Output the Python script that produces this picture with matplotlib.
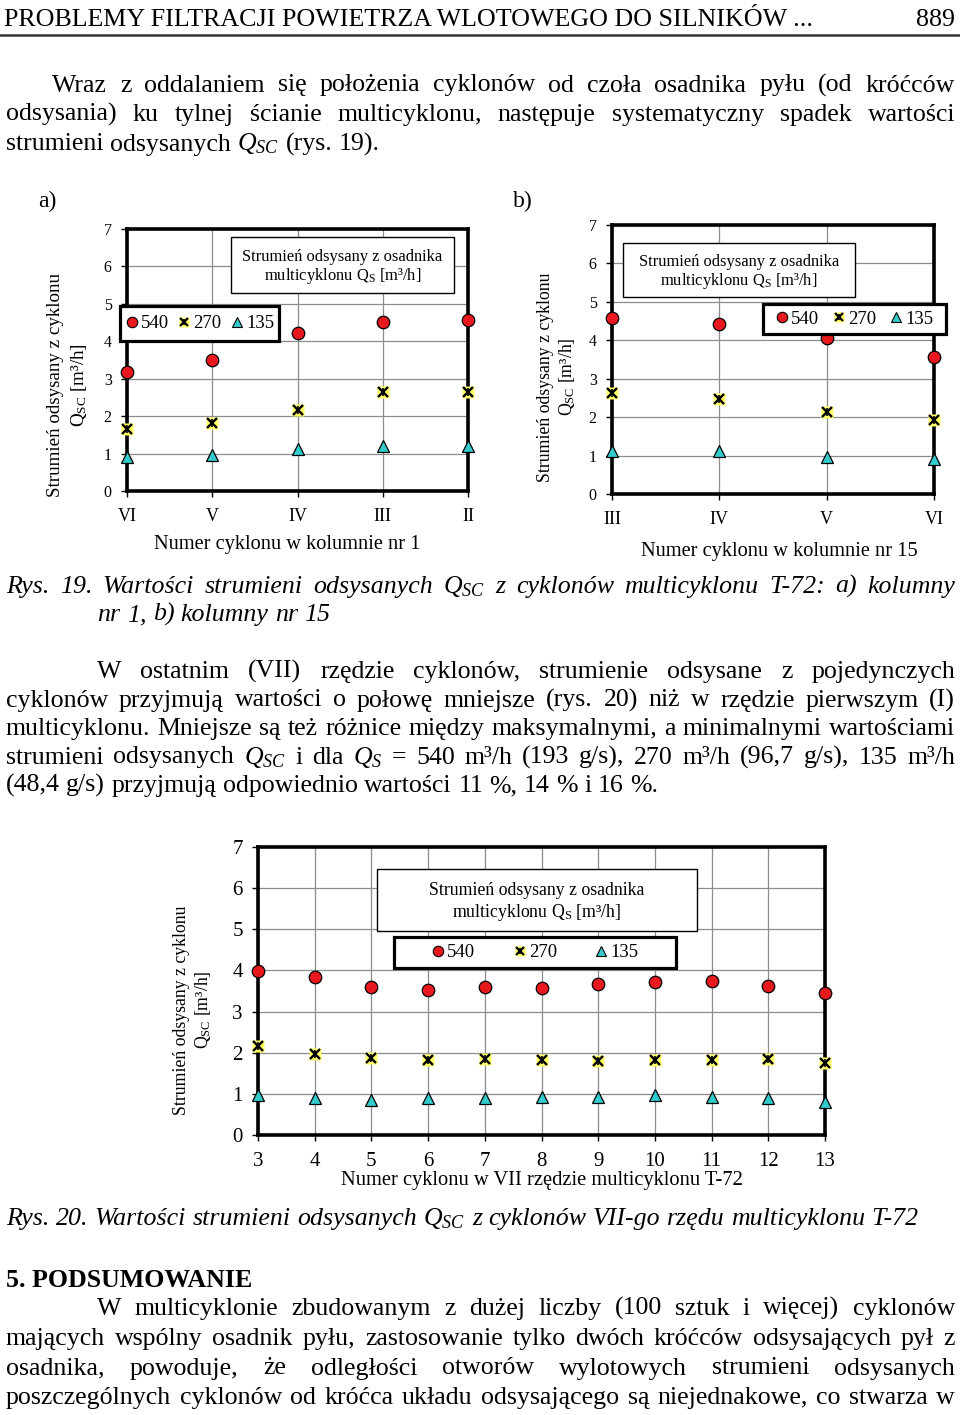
import matplotlib.pyplot as plt
from matplotlib.patches import Rectangle
from matplotlib.lines import Line2D

plt.rcParams['font.family'] = ['Liberation Serif', 'DejaVu Serif']
plt.rcParams['mathtext.fontset'] = 'custom'
plt.rcParams['mathtext.rm'] = 'Liberation Serif'
plt.rcParams['mathtext.it'] = 'Liberation Serif:italic'
plt.rcParams['mathtext.bf'] = 'Liberation Serif:bold'

# --- dane ---
series = ['540', '270', '135']

cols_a = ['VI', 'V', 'IV', 'III', 'II']
a_540 = [3.17, 3.50, 4.21, 4.52, 4.57]
a_270 = [1.65, 1.83, 2.16, 2.64, 2.64]
a_135 = [0.92, 0.96, 1.11, 1.20, 1.20]

cols_b = ['III', 'IV', 'V', 'VI']
b_540 = [4.59, 4.42, 4.05, 3.57]
b_270 = [2.62, 2.47, 2.13, 1.93]
b_135 = [1.13, 1.11, 0.96, 0.92]

row7 = [3, 4, 5, 6, 7, 8, 9, 10, 11, 12, 13]
r_540 = [3.99, 3.84, 3.59, 3.52, 3.59, 3.58, 3.68, 3.71, 3.75, 3.62, 3.46]
r_270 = [2.16, 1.97, 1.86, 1.82, 1.85, 1.82, 1.80, 1.82, 1.82, 1.84, 1.74]
r_135 = [0.97, 0.89, 0.85, 0.89, 0.89, 0.93, 0.93, 0.97, 0.93, 0.89, 0.81]

RED = '#e8191e'
YEL = '#ffff66'
CYAN = '#33cccc'
BODY = 18.6

W, H = 960, 1415
fig = plt.figure(figsize=(W / 100, H / 100), dpi=100)
renderer = fig.canvas.get_renderer()


def fy(y):
    return 1 - y / H


def put_line(y, text, x0=6, x1=955, size=BODY, justify=True, **kw):
    # kazde slowo osobno, zeby wyrownac do obu marginesow
    words = text.split(' ')
    objs = [fig.text(0, fy(y), w, fontsize=size, va='baseline', **kw) for w in words]
    widths = [o.get_window_extent(renderer).width for o in objs]
    if justify and len(objs) > 1:
        gap = (x1 - x0 - sum(widths)) / (len(objs) - 1)
    else:
        gap = 0.25 * size * 100 / 72
    x = x0
    for o, w in zip(objs, widths):
        o.set_x(x / W)
        x += w + gap


def text_box(x0, y0, x1, y1, size):
    fig.add_artist(Rectangle((x0 / W, fy(y1)), (x1 - x0) / W, (y1 - y0) / H,
                             transform=fig.transFigure, fc='white', ec='black', lw=1.0, zorder=1))
    cx = (x0 + x1) / 2 / W
    h = y1 - y0
    fig.text(cx, fy(y0 + h * 0.35), 'Strumień odsysany z osadnika', ha='center', va='center', fontsize=size, zorder=3)
    fig.text(cx, fy(y0 + h * 0.70), r'multicyklonu $\mathrm{Q_S}$ [m³/h]', ha='center', va='center', fontsize=size, zorder=3)


def legend_box(x0, y0, x1, y1, size, colsp, ms=7.5):
    fig.add_artist(Rectangle((x0 / W, fy(y1)), (x1 - x0) / W, (y1 - y0) / H,
                             transform=fig.transFigure, fc='white', ec='black', lw=2.3, zorder=1))
    h1 = Line2D([], [], ls='none', marker='o', ms=ms, mfc=RED, mec='black', mew=0.8)
    h2 = (Line2D([], [], ls='none', marker='s', ms=ms, mfc=YEL, mec='none'),
          Line2D([], [], ls='none', marker='x', ms=ms - 1.5, mec='black', mew=1.6),
          Line2D([], [], ls='none', marker='|', ms=ms - 2.5, mec='black', mew=1.2))
    h3 = Line2D([], [], ls='none', marker='^', ms=ms, mfc=CYAN, mec='black', mew=0.8)
    fig.legend([h1, h2, h3], series, loc='center',
               bbox_to_anchor=((x0 + x1) / 2 / W, fy((y0 + y1) / 2)),
               ncol=3, frameon=False, fontsize=size, handlelength=0.7, handletextpad=0.15,
               columnspacing=colsp, borderpad=0)


def style_axes(ax, xpos, xlabels, ysize, xsize):
    ax.set_ylim(0, 7)
    ax.set_yticks(range(8))
    ax.set_xlim(xpos[0], xpos[-1])
    ax.set_xticks(xpos)
    ax.set_xticklabels(xlabels)
    ax.grid(True, color='#8c8c8c', lw=0.9)
    ax.set_axisbelow(True)
    for s in ax.spines.values():
        s.set_linewidth(2.6)
    ax.tick_params(axis='y', labelsize=ysize, length=4, width=1, pad=7)
    ax.tick_params(axis='x', labelsize=xsize, length=4, width=1, pad=8)


def plot_series(ax, x, y540, y270, y135, ms=9):
    ax.plot(x, y540, ls='none', marker='o', ms=ms, mfc=RED, mec='black', mew=0.9, clip_on=False, zorder=4)
    ax.plot(x, y270, ls='none', marker='s', ms=ms, mfc=YEL, mec='none', clip_on=False, zorder=4)
    ax.plot(x, y270, ls='none', marker='x', ms=ms - 2, mec='black', mew=1.7, clip_on=False, zorder=5)
    ax.plot(x, y270, ls='none', marker='|', ms=ms - 3, mec='black', mew=1.2, clip_on=False, zorder=5)
    ax.plot(x, y135, ls='none', marker='^', ms=ms, mfc=CYAN, mec='black', mew=0.9, clip_on=False, zorder=4)


def add_axes(x0, y0, x1, y1):
    return fig.add_axes([x0 / W, fy(y1), (x1 - x0) / W, (y1 - y0) / H])


# --- naglowek ---
fig.text(4 / W, fy(26), 'PROBLEMY FILTRACJI POWIETRZA WLOTOWEGO DO SILNIKÓW ...', fontsize=18.7, va='baseline')
fig.text(955 / W, fy(26), '889', fontsize=18.7, va='baseline', ha='right')
fig.add_artist(Line2D([0, 1], [fy(34.5), fy(34.5)], color='#333333', lw=1.8, transform=fig.transFigure))

put_line(91.5, 'Wraz z oddalaniem się położenia cyklonów od czoła osadnika pyłu (od króćców', x0=52)
put_line(121, 'odsysania) ku tylnej ścianie multicyklonu, następuje systematyczny spadek wartości')
put_line(150.5, r'strumieni odsysanych $Q_{SC}$ (rys. 19).', justify=False)

# --- wykres a ---
fig.text(47 / W, fy(201), 'a)', fontsize=17, ha='center', va='center')
ax1 = add_axes(127, 229, 468, 491)
xa = list(range(len(cols_a)))
style_axes(ax1, xa, cols_a, 11.5, 13)
plot_series(ax1, xa, a_540, a_270, a_135)
fig.text(56 / W, fy(385), 'Strumień odsysany z cyklonu', rotation=90, ha='center', va='center', fontsize=13.7)
fig.text(79 / W, fy(385), r'$\mathrm{Q_{SC}}$ [m³/h]', rotation=90, ha='center', va='center', fontsize=13.7)
fig.text(287 / W, fy(544), 'Numer cyklonu w kolumnie nr 1', ha='center', va='center', fontsize=14.7)
text_box(231, 237, 454, 293, 11.9)
legend_box(120, 306, 279, 341, 13.5, 0.45)

# --- wykres b ---
fig.text(523 / W, fy(201), 'b)', fontsize=17, ha='center', va='center')
ax2 = add_axes(612, 225, 934, 494)
xb = list(range(len(cols_b)))
style_axes(ax2, xb, cols_b, 11.5, 13)
plot_series(ax2, xb, b_540, b_270, b_135)
fig.text(545 / W, fy(377), 'Strumień odsysany z cyklonu', rotation=90, ha='center', va='center', fontsize=12.8)
fig.text(567 / W, fy(377), r'$\mathrm{Q_{SC}}$ [m³/h]', rotation=90, ha='center', va='center', fontsize=12.8)
fig.text(779 / W, fy(551), 'Numer cyklonu w kolumnie nr 15', ha='center', va='center', fontsize=14.7)
text_box(623, 243, 855, 297, 11.9)
legend_box(763, 304, 946, 334, 13.5, 0.7)

# --- podpis rys. 19 ---
put_line(593, r'Rys. 19. Wartości strumieni odsysanych $Q_{SC}$ z cyklonów multicyklonu T-72: a) kolumny',
         style='italic')
put_line(621, 'nr 1, b) kolumny nr 15', x0=97, justify=False, style='italic')

put_line(678, 'W ostatnim (VII) rzędzie cyklonów, strumienie odsysane z pojedynczych', x0=97)
put_line(706.5, 'cyklonów przyjmują wartości o połowę mniejsze (rys. 20) niż w rzędzie pierwszym (I)')
put_line(735, 'multicyklonu. Mniejsze są też różnice między maksymalnymi, a minimalnymi wartościami')
put_line(763.5, r'strumieni odsysanych $Q_{SC}$ i dla $Q_S$ = 540 m³/h (193 g/s), 270 m³/h (96,7 g/s), 135 m³/h')
put_line(792, '(48,4 g/s) przyjmują odpowiednio wartości 11 %, 14 % i 16 %.', justify=False)

# --- wykres rys. 20 ---
ax3 = add_axes(258, 847, 825, 1135)
style_axes(ax3, row7, [str(v) for v in row7], 15, 15)
plot_series(ax3, row7, r_540, r_270, r_135)
fig.text(181 / W, fy(1010), 'Strumień odsysany z cyklonu', rotation=90, ha='center', va='center', fontsize=12.8)
fig.text(203 / W, fy(1010), r'$\mathrm{Q_{SC}}$ [m³/h]', rotation=90, ha='center', va='center', fontsize=12.8)
fig.text(542 / W, fy(1181), 'Numer cyklonu w VII rzędzie multicyklonu T-72', ha='center', va='center', fontsize=14.8)
text_box(377, 869, 697, 931, 12.8)
legend_box(394, 937, 676, 968, 13.5, 2.0)

put_line(1225, r'Rys. 20. Wartości strumieni odsysanych $Q_{SC}$ z cyklonów VII-go rzędu multicyklonu T-72',
         justify=False, style='italic')
fig.text(6 / W, fy(1287), '5. PODSUMOWANIE', fontsize=18.6, weight='bold', va='baseline')

put_line(1315, 'W multicyklonie zbudowanym z dużej liczby (100 sztuk i więcej) cyklonów', x0=97)
put_line(1345, 'mających wspólny osadnik pyłu, zastosowanie tylko dwóch króćców odsysających pył z')
put_line(1374.5, 'osadnika, powoduje, że odległości otworów wylotowych strumieni odsysanych')
put_line(1404, 'poszczególnych cyklonów od króćca układu odsysającego są niejednakowe, co stwarza w')

fig.savefig('out.png', dpi=100)
